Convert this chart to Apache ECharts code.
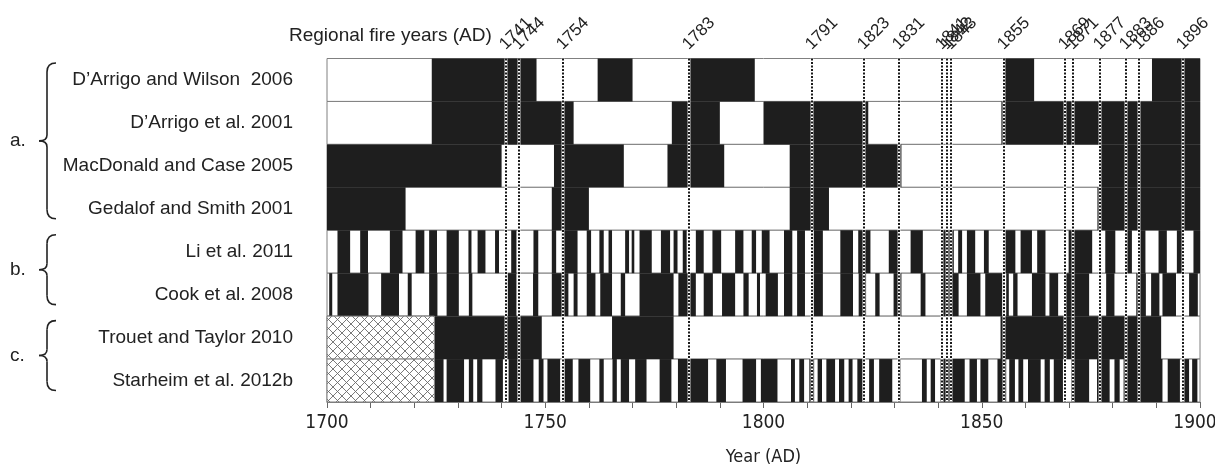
<!DOCTYPE html>
<html><head><meta charset="utf-8">
<script src="https://cdn.jsdelivr.net/npm/echarts@6/dist/echarts.min.js"></script>
<style>html,body{margin:0;padding:0;background:#fff;overflow:hidden}#chart{width:1215px;height:466px}</style>
</head><body><div id="chart"></div>
<script>
// ---------- DATA ----------
const categories = ["D\u2019Arrigo and Wilson  2006", "D\u2019Arrigo et al. 2001", "MacDonald and Case 2005",
  "Gedalof and Smith 2001", "Li et al. 2011", "Cook et al. 2008", "Trouet and Taylor 2010", "Starheim et al. 2012b"];
const groupLabels = ["a.", "b.", "c."];
const groupFirstRow = [0, 4, 6];
const groupLastRow = [3, 5, 7];
// positions of the dashed fire-year lines as drawn, and the labels printed above them
const fireYears = [1741, 1744, 1754, 1783, 1811, 1823, 1831, 1841, 1842, 1843, 1855, 1869, 1871, 1877, 1883, 1886, 1896];
const fireYearLabels = ["1741", "1744", "1754", "1783", "1791", "1823", "1831", "1841", "1842", "1843", "1855", "1869", "1871", "1877", "1883", "1886", "1896"];
const xTickValues = [1700, 1750, 1800, 1850, 1900];

// black (phase) spans [startYear, endYear]
const dArrigoWilson2006 = [[1724,1748],[1762,1770],[1783,1798],[1855,1862],[1889,1900]];
const dArrigo2001 = [[1724,1756.5],[1779,1790],[1800,1824],[1854.5,1900]];
const macDonaldCase2005 = [[1700,1740],[1752,1768],[1778,1791],[1806,1831.6],[1877,1900]];
const gedalofSmith2001 = [[1700,1718],[1751.5,1760],[1806,1815],[1876.5,1900]];
const li2011 = [[1702.4,1705.3],[1707.6,1709.4],[1714.4,1717.3],[1720.3,1722.3],[1723.4,1725.2],[1727.4,1730.2],[1732.4,1733.1],[1734.5,1736.3],[1738.5,1739.4],[1742.2,1743.4],[1747.3,1748.4],
  [1751.5,1752.5],[1753.8,1757.4],[1759.5,1760.5],[1762.4,1763.4],[1764.5,1765.3],[1768.3,1769.2],[1769.8,1770.4],[1771.6,1774.4],[1776.5,1778.6],[1779.4,1780.3],[1781.5,1782.4],[1784.5,1786.3],[1788.3,1790.3],[1793.5,1795.4],[1797.3,1798.3],[1799.6,1801.4],
  [1804.7,1806.6],[1807.7,1809.5],[1811.5,1813.6],[1817.6,1820.5],[1821.7,1824.5],[1828.7,1831],[1833.7,1836.5],[1840.9,1843.6],[1844.6,1845.5],[1846.6,1848.5],[1850.5,1851.6],[1855.4,1857.7],[1858.9,1861.5],[1862.7,1864.6],[1869.9,1875.3],[1878.3,1880.6],[1883.3,1884.4],[1886.3,1887.5],[1890.5,1892.4],[1894.7,1895.9],[1898.5,1900]];
const cook2008 = [[1700.5,1701.2],[1702.4,1709.5],[1712.4,1716.5],[1718.5,1719.4],[1723.4,1725.3],[1727.4,1730.2],[1732.5,1733.3],[1741.4,1743.4],[1747.2,1748.4],
  [1751.5,1755.3],[1756.5,1757.4],[1759.5,1761.5],[1762.6,1765.3],[1767.3,1768.3],[1771.6,1779.4],[1780.5,1784.5],[1786.3,1788.4],[1790.5,1793.5],[1795.4,1796.6],[1798.5,1799.2],[1800.5,1803.3],
  [1804.7,1806.6],[1807.7,1809.5],[1811.5,1813.6],[1817.6,1820.5],[1821.8,1823.5],[1825.6,1826.6],[1829.8,1831.6],[1836,1837.1],[1840.9,1844.7],[1846.6,1849.7],[1850.8,1854.7],[1855.6,1856.2],[1857.2,1858.2],[1861.5,1864.6],[1865.5,1867.5],[1869.2,1874.6],[1878.5,1880.4],[1885.4,1887.6],[1888.8,1890.7],[1891.4,1894.5],[1897.5,1899.5]];
const trouetTaylor2010 = [[1724.6,1749.2],[1765.3,1779.4],[1854.3,1891.1]];
const starheim2012b = [[1724.6,1726.7],[1727.4,1731.4],[1732.5,1733.5],[1734.4,1735.6],[1738.6,1740.3],[1741.6,1743.7],[1744.3,1747.3],[1748.5,1749.6],
  [1750.5,1753.4],[1754.4,1756.3],[1757.6,1760.3],[1762.4,1763.4],[1765.4,1766.4],[1767.3,1769.2],[1770.6,1773.2],[1776.2,1778.9],[1780.4,1787.3],[1789.2,1791.4],[1795.2,1798.3],[1799.4,1803.2],
  [1806.3,1807.2],[1808.2,1809.3],[1810.5,1811.6],[1812.4,1813.4],[1814.4,1816.4],[1817.3,1818.5],[1819.5,1820.4],[1821.5,1822.7],[1824.2,1825.3],[1826.5,1829.5],[1831,1831.4],[1836.3,1837.4],[1838.3,1839.3],[1840.5,1846.1],[1847.2,1848.9],[1849.7,1851.5],
  [1853.6,1855.6],[1856.3,1857.6],[1858.4,1859.5],[1860.6,1863.5],[1864.4,1865.6],[1866.5,1868.6],[1870.5,1874.6],[1876.4,1879.3],[1880.4,1881.6],[1882.5,1891.4],[1892.6,1895.4],[1896.3,1897.5],[1898.2,1899.4]];
// no-data (hatched) spans
const trouetNoData = [[1700,1724.6]];
const starheimNoData = [[1700,1724.6]];

// ---------- BUILD ----------
const blackRows = [dArrigoWilson2006, dArrigo2001, macDonaldCase2005, gedalofSmith2001, li2011, cook2008, trouetTaylor2010, starheim2012b];
const noDataRows = {6: trouetNoData, 7: starheimNoData};
const frameData = categories.map((c, i) => [1700, 1900, i]);
const blackData = [];
blackRows.forEach((spans, i) => spans.forEach(s => blackData.push([s[0], s[1], i])));
const hatchData = [];
Object.keys(noDataRows).forEach(k => noDataRows[k].forEach(s => hatchData.push([s[0], s[1], +k])));
const fireData = fireYears.map((y, i) => [y, 0, i]);

const FONT = '"Liberation Sans", Arial, Helvetica, sans-serif';
const NARROW = '"Liberation Sans Narrow", "DejaVu Sans Condensed", "Liberation Sans", sans-serif';

const pc = document.createElement('canvas');
pc.width = 9; pc.height = 9;
(function () {
  const g = pc.getContext('2d');
  g.fillStyle = '#fff'; g.fillRect(0, 0, 9, 9);
  g.strokeStyle = '#6a6a6a'; g.lineWidth = 0.9;
  g.beginPath(); g.moveTo(0, 0); g.lineTo(9, 9); g.moveTo(9, 0); g.lineTo(0, 9); g.stroke();
})();

function spanRender(fill, stroke, lw) {
  return function (params, api) {
    const a = api.coord([api.value(0), api.value(2)]);
    const b = api.coord([api.value(1), api.value(2)]);
    const h = api.size([0, 1])[1];
    return {type: 'rect', shape: {x: a[0], y: a[1] - h / 2, width: b[0] - a[0], height: h},
      style: {fill: fill, stroke: stroke, lineWidth: lw}};
  };
}

const chart = echarts.init(document.getElementById('chart'), null, {renderer: 'canvas'});
chart.setOption({
  animation: false,
  backgroundColor: '#fff',
  title: {text: 'Regional fire years (AD)', left: 284, top: 21,
    textStyle: {fontFamily: FONT, fontSize: 19, fontWeight: 'normal', color: '#222'}},
  grid: {left: 327, right: 15, top: 58.5, bottom: 64, containLabel: false, outerBoundsMode: 'none'},
  xAxis: {type: 'value', min: 1700, max: 1900, interval: 10,
    name: 'Year (AD)', nameLocation: 'middle', nameGap: 46,
    nameTextStyle: {fontFamily: NARROW, fontSize: 18, color: '#222'},
    axisLine: {show: true, lineStyle: {color: '#777', width: 1}},
    axisTick: {show: true, length: 6, lineStyle: {color: '#666'}},
    axisLabel: {margin: 12, fontFamily: NARROW, fontSize: 19, color: '#222', hideOverlap: false,
      formatter: v => (v === 1900 ? '{last|1900}' : (xTickValues.indexOf(v) >= 0 ? String(v) : '')),
      rich: {last: {fontFamily: NARROW, fontSize: 19, color: '#222', padding: [0, 10, 0, 0]}}},
    splitLine: {show: false}},
  yAxis: {type: 'category', inverse: true, data: categories,
    axisLine: {show: false}, axisTick: {show: false}, splitLine: {show: false},
    axisLabel: {interval: 0, margin: 34, fontFamily: FONT, fontSize: 19, color: '#222'}},
  series: [
    {type: 'custom', silent: true, z: 1, renderItem: spanRender('#fff', '#808080', 1),
      encode: {x: [0, 1], y: 2}, data: frameData},
    {type: 'custom', silent: true, z: 2, renderItem: spanRender('#1e1e1e', null, 0),
      encode: {x: [0, 1], y: 2}, data: blackData},
    {type: 'custom', silent: true, z: 2, renderItem: spanRender({image: pc, repeat: 'repeat'}, '#808080', 1),
      encode: {x: [0, 1], y: 2}, data: hatchData},
    {type: 'custom', silent: true, z: 3, clip: false,
      encode: {x: 0, y: 1},
      data: fireData,
      renderItem: function (params, api) {
        const x = Math.round(api.coord([api.value(0), 0])[0]);
        const cs = params.coordSys;
        const top = cs.y, bot = cs.y + cs.height;
        return {type: 'group', children: [
          {type: 'line', shape: {x1: x, y1: top, x2: x, y2: bot}, style: {stroke: '#fff', lineWidth: 2.8}},
          {type: 'line', shape: {x1: x, y1: top, x2: x, y2: bot}, style: {stroke: '#1a1a1a', lineWidth: 2, lineDash: [2, 1.5]}},
          {type: 'text', x: x + 2.5, y: top - 5.5, rotation: Math.PI / 4,
            style: {text: fireYearLabels[api.value(2)], fill: '#222', font: '17px ' + FONT, align: 'left', verticalAlign: 'bottom'}}
        ]};
      }}
  ]
});

// group braces
const gfx = [];
const bs = {stroke: '#222', lineWidth: 1.6, fill: null};
groupLabels.forEach((lab, k) => {
  const t = chart.convertToPixel({yAxisIndex: 0}, categories[groupFirstRow[k]]) - 17;
  const b = chart.convertToPixel({yAxisIndex: 0}, categories[groupLastRow[k]]) + 10;
  const m = (t + b) / 2;
  gfx.push({type: 'bezierCurve', shape: {x1: 56, y1: t, x2: 47, y2: t + 9, cpx1: 47, cpy1: t}, style: bs});
  gfx.push({type: 'line', shape: {x1: 47, y1: t + 9, x2: 47, y2: m - 6}, style: bs});
  gfx.push({type: 'bezierCurve', shape: {x1: 47, y1: m - 6, x2: 39, y2: m, cpx1: 47, cpy1: m}, style: bs});
  gfx.push({type: 'bezierCurve', shape: {x1: 39, y1: m, x2: 47, y2: m + 6, cpx1: 47, cpy1: m}, style: bs});
  gfx.push({type: 'line', shape: {x1: 47, y1: m + 6, x2: 47, y2: b - 9}, style: bs});
  gfx.push({type: 'bezierCurve', shape: {x1: 47, y1: b - 9, x2: 56, y2: b, cpx1: 47, cpy1: b}, style: bs});
  gfx.push({type: 'text', x: 10, y: m, style: {text: lab, fill: '#222', font: '19px ' + FONT, verticalAlign: 'middle', align: 'left'}});
});
chart.setOption({graphic: gfx});
</script>
</body></html>
